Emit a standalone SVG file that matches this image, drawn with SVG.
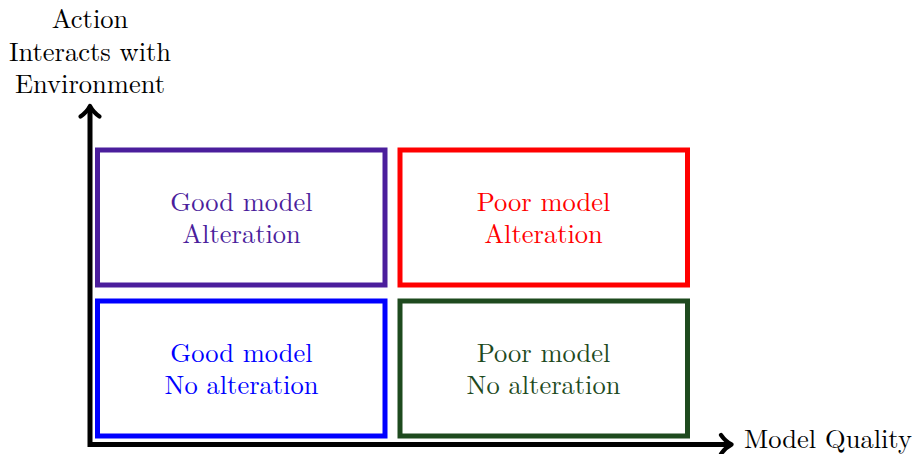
<svg xmlns="http://www.w3.org/2000/svg" width="912" height="454" viewBox="0 0 912 454">
<style>
text{font-family:Latin Modern Roman, Liberation Serif, serif;font-size:26.5px;text-anchor:middle}
.box{fill:none;stroke-width:5}
.axis{fill:none;stroke:#000;stroke-width:5;stroke-linejoin:miter}
.head{fill:none;stroke:#000;stroke-width:4.2;stroke-linecap:round;stroke-linejoin:round}
</style>
<rect width="912" height="454" fill="#fff"/>
<g id="connectors">
<path class="axis" d="M90,107 L90,444.5 L730,444.5"/>
<path class="head" d="M80.5,116.5 Q87,112 90,106 Q93,112 99.5,116.5"/>
<path class="head" d="M721,435 Q725.5,441.5 731.5,444.5 Q725.5,447.5 721,454"/>
</g>
<g id="yLabel" fill="#000">
<text x="90" y="28">Action</text>
<text x="90" y="61">Interacts with</text>
<text x="90" y="93">Environment</text>
</g>
<g id="xLabel"><text x="828" y="448">Model Quality</text></g>
<g id="goodAlt">
<rect class="box" x="97.5" y="150" width="287.5" height="135" stroke="#4b1e9c"/>
<text x="241.5" y="211" fill="#4b1e9c">Good model</text>
<text x="241.5" y="243" fill="#4b1e9c">Alteration</text>
</g>
<g id="poorAlt">
<rect class="box" x="400" y="150" width="287.5" height="135" stroke="#ff0000"/>
<text x="543.5" y="211" fill="#ff0000">Poor model</text>
<text x="543.5" y="243" fill="#ff0000">Alteration</text>
</g>
<g id="goodNoAlt">
<rect class="box" x="97.5" y="301" width="287.5" height="135" stroke="#0000ff"/>
<text x="241.5" y="362" fill="#0000ff">Good model</text>
<text x="241.5" y="394" fill="#0000ff">No alteration</text>
</g>
<g id="poorNoAlt">
<rect class="box" x="400" y="301" width="287.5" height="135" stroke="#1e4a1e"/>
<text x="543.5" y="362" fill="#1e4a1e">Poor model</text>
<text x="543.5" y="394" fill="#1e4a1e">No alteration</text>
</g>
</svg>
